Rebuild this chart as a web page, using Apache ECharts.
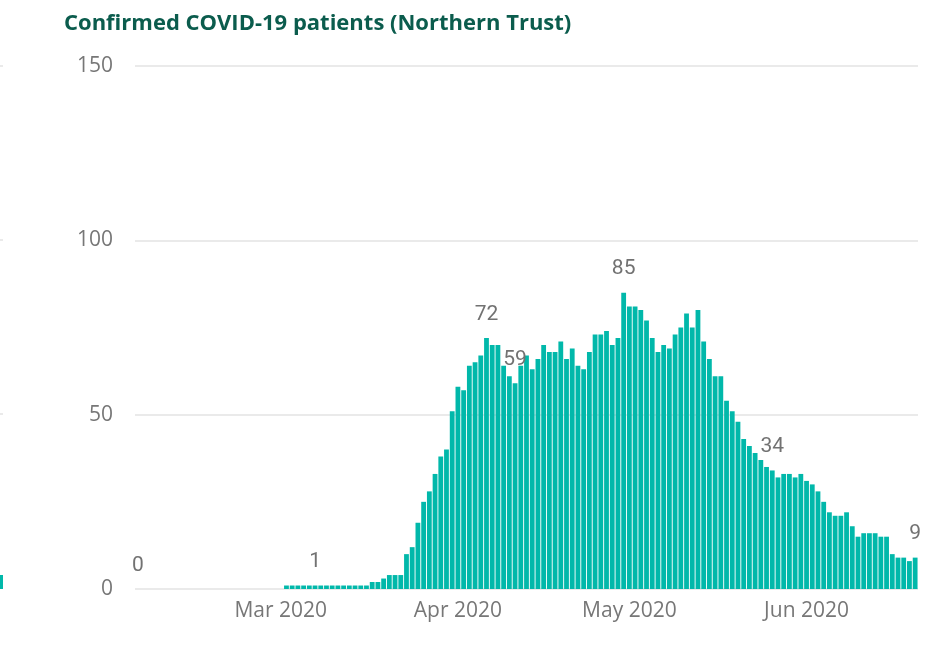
<!DOCTYPE html>
<html>
<head>
<meta charset="utf-8">
<script src="https://cdn.jsdelivr.net/npm/echarts@6/dist/echarts.min.js"></script>
<style>
html,body{margin:0;padding:0;background:#fff;}
#chart{width:936px;height:645px;}
</style>
</head>
<body>
<div id="chart"></div>
<script>
// ---- data ----
const titleText = 'Confirmed COVID-19 patients (Northern Trust)';
const startDate = '2020-02-05';
const patients = [
  0,0,0,0,0,0,0,0,0,0,0,0,0,0,0,0,0,0,0,0,0,0,0,0,0,0,      // Feb 5 - Mar 1
  1,1,1,1,1,1,1,1,1,1,1,1,1,1,1,                           // Mar 2 - Mar 16
  2,2,3,4,4,4,10,12,19,25,28,33,38,40,51,                  // Mar 17 - Mar 31
  58,57,64,65,67,72,70,70,64,61,59,64,67,63,66,70,68,68,71,66,69,64,63,68,73,73,74,70,72,85, // April
  81,81,80,77,72,68,70,69,73,75,79,75,80,71,66,61,61,54,51,48,43,41,39,37,35,34,32,33,33,32,33, // May
  31,30,28,25,22,21,21,22,18,15,16,16,16,15,15,10,9,9,8,9  // Jun 1 - Jun 20
];
const labelledDates = ['2020-02-05','2020-03-07','2020-04-06','2020-04-11','2020-04-30','2020-05-26','2020-06-20'];
const yTicks = [0, 50, 100, 150];
const monthNames = ['Jan','Feb','Mar','Apr','May','Jun','Jul','Aug','Sep','Oct','Nov','Dec'];

// ---- build categories ----
const dates = [];
(function(){
  const d = new Date(startDate + 'T00:00:00Z');
  for (let i = 0; i < patients.length; i++) {
    dates.push(d.toISOString().slice(0,10));
    d.setUTCDate(d.getUTCDate() + 1);
  }
})();

const seriesData = patients.map((v, i) => {
  const item = { value: v };
  if (labelledDates.indexOf(dates[i]) >= 0) item.label = { show: true };
  return item;
});

const chart = echarts.init(document.getElementById('chart'), null, { renderer: 'canvas' });
chart.setOption({
  animation: false,
  backgroundColor: '#ffffff',
  title: {
    text: titleText,
    left: 59, top: 8,
    textStyle: { fontFamily: 'Open Sans', fontWeight: 'bold', fontSize: 22, color: '#0B5C4D' }
  },
  grid: { left: 135, right: 18, top: 66, bottom: 56, containLabel: false },
  xAxis: {
    type: 'category',
    data: dates,
    boundaryGap: true,
    axisLine: { show: false },
    axisTick: { show: false },
    axisLabel: {
      interval: (idx, val) => val.slice(8,10) === '01',
      formatter: (val) => monthNames[parseInt(val.slice(5,7),10)-1] + ' ' + val.slice(0,4),
      color: '#777777', fontFamily: 'Open Sans', fontSize: 21, margin: 12
    },
    splitLine: { show: false }
  },
  yAxis: {
    type: 'value',
    min: yTicks[0], max: yTicks[yTicks.length-1], interval: 50,
    axisLine: { show: false },
    axisTick: { show: false },
    axisLabel: { color: '#777777', fontFamily: 'Open Sans', fontSize: 21, margin: 22 },
    splitLine: { lineStyle: { color: '#EAEAEA', width: 2 } }
  },
  series: [{
    type: 'bar',
    data: seriesData,
    barCategoryGap: '16%',
    itemStyle: { color: '#01B8AA' },
    label: {
      show: false,
      position: 'top',
      distance: 13,
      color: '#727272',
      fontFamily: 'Roboto',
      fontSize: 21
    }
  }],
  graphic: [
    { type: 'rect', left: 0, top: 575, shape: { width: 3, height: 14 }, style: { fill: '#01B8AA' }, silent: true },
    { type: 'rect', left: 0, top: 65, shape: { width: 3, height: 2 }, style: { fill: '#EAEAEA' }, silent: true },
    { type: 'rect', left: 0, top: 239, shape: { width: 3, height: 2 }, style: { fill: '#EAEAEA' }, silent: true },
    { type: 'rect', left: 0, top: 413, shape: { width: 3, height: 2 }, style: { fill: '#EAEAEA' }, silent: true }
  ]
});
</script>
</body>
</html>
